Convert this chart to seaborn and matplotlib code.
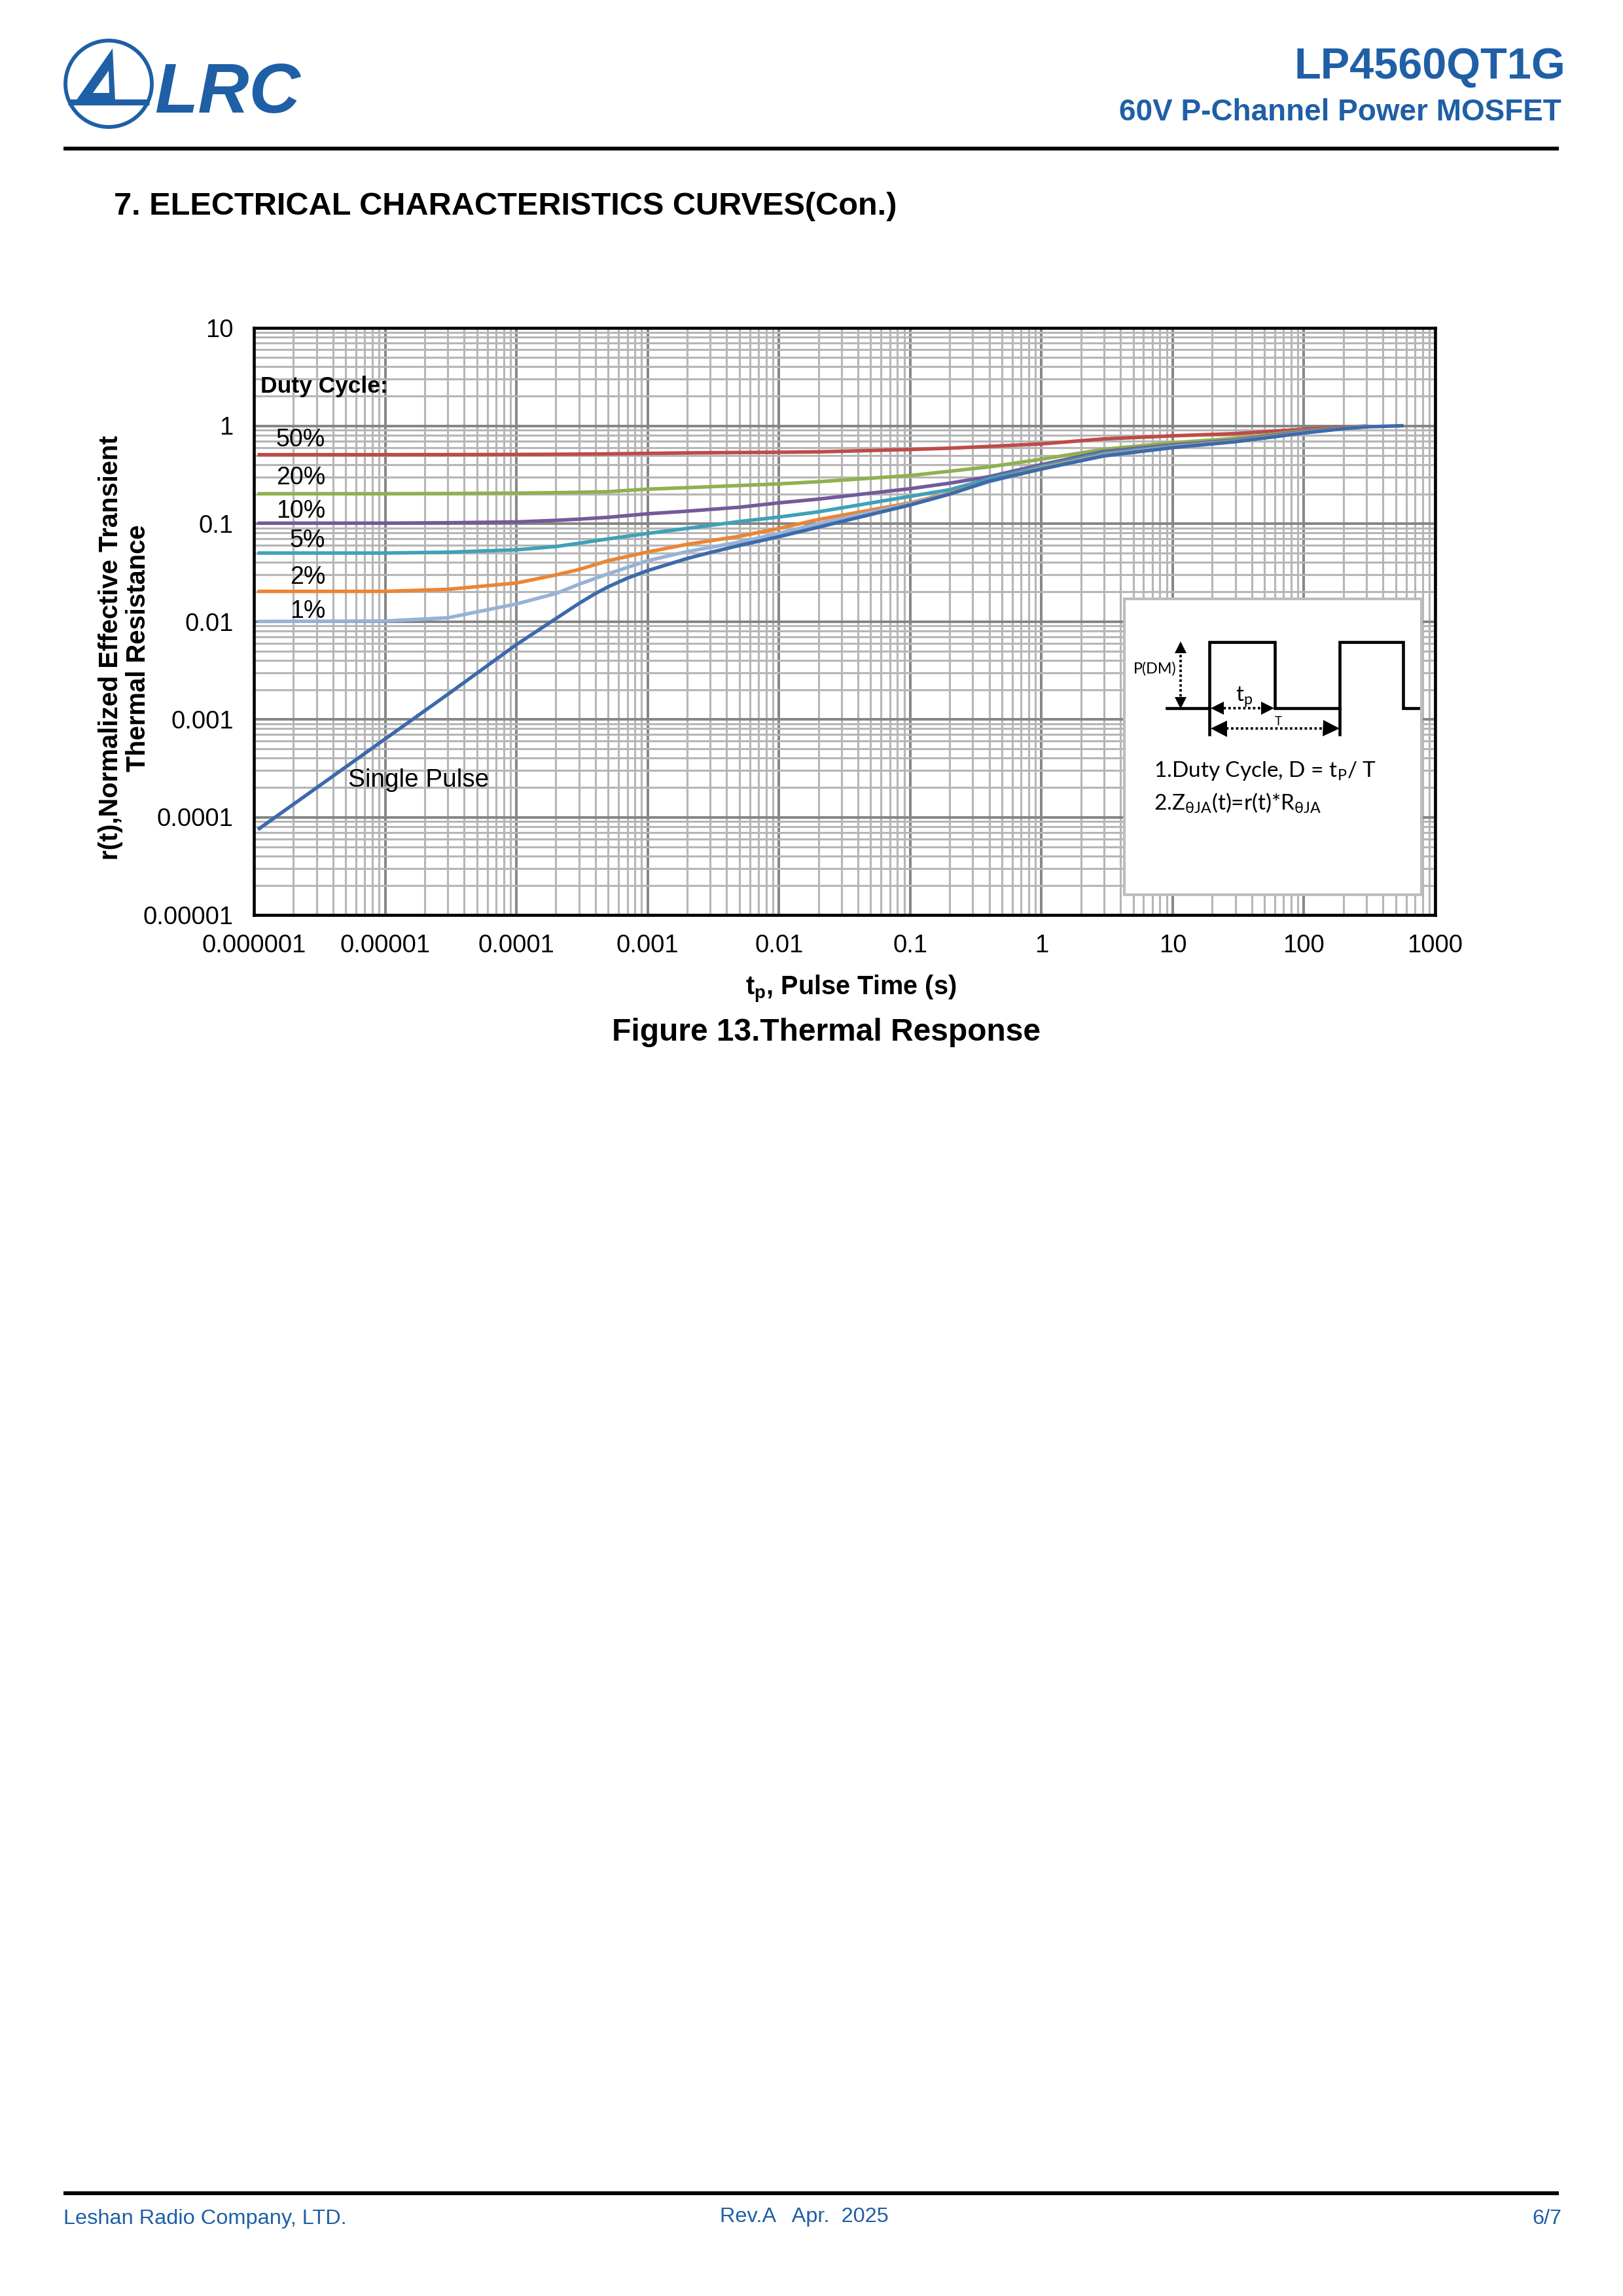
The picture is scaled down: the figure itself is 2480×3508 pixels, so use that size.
import numpy as np
import pandas as pd
import matplotlib
matplotlib.use("Agg")
import matplotlib.pyplot as plt
import seaborn as sns
from matplotlib.patches import Circle, Polygon
from matplotlib.ticker import LogLocator, NullFormatter, FixedLocator

# ---------------- data ----------------
t_duty = [1.1e-6, 1e-5, 3e-5, 1e-4, 2e-4, 3e-4, 5e-4, 1e-3, 2e-3, 5e-3, 1e-2, 2e-2,
          0.1, 0.2, 0.4, 1, 3, 10, 30, 100, 300]
r_50 = [0.506, 0.506, 0.507, 0.509, 0.511, 0.513, 0.516, 0.522, 0.528, 0.533, 0.536, 0.541,
        0.572, 0.59, 0.615, 0.653, 0.734, 0.789, 0.831, 0.921, 0.995]
r_20 = [0.202, 0.202, 0.203, 0.205, 0.207, 0.209, 0.212, 0.225, 0.233, 0.245, 0.2547, 0.268,
        0.310, 0.343, 0.380, 0.455, 0.575, 0.670, 0.742, 0.888, 0.99]
r_10 = [0.101, 0.101, 0.102, 0.104, 0.108, 0.111, 0.116, 0.126, 0.134, 0.147, 0.163, 0.178,
        0.2275, 0.259, 0.302, 0.401, 0.546, 0.636, 0.712, 0.875, 0.99]
r_5 = [0.050, 0.050, 0.051, 0.054, 0.0583, 0.063, 0.0698, 0.0794, 0.0893, 0.105, 0.1166, 0.132,
       0.190, 0.222, 0.287, 0.384, 0.525, 0.620, 0.700, 0.862, 0.99]
r_2 = [0.0203, 0.0203, 0.0213, 0.0247, 0.0299, 0.034, 0.0418, 0.0513, 0.0614, 0.0742, 0.0893, 0.110,
       0.163, 0.205, 0.270, 0.371, 0.505, 0.610, 0.695, 0.855, 0.99]
r_1 = [0.0100, 0.0101, 0.0109, 0.0151, 0.0193, 0.024, 0.0307, 0.0418, 0.0518, 0.0646, 0.0794, 0.100,
       0.159, 0.202, 0.268, 0.365, 0.500, 0.605, 0.690, 0.850, 0.99]
t_single = [1.1e-6, 1e-5, 3e-5, 1e-4, 2e-4, 3e-4, 4e-4, 5e-4, 7e-4, 1e-3, 2e-3, 3e-3, 5e-3,
            1e-2, 2e-2, 0.1, 0.2, 0.4, 1, 3, 10, 30, 100, 200, 300, 557]
r_single = [7.65e-5, 6.3e-4, 0.0018, 0.0058, 0.0107, 0.0153, 0.0193, 0.0226, 0.0277, 0.0331,
            0.044, 0.0507, 0.0598, 0.0735, 0.092, 0.155, 0.200, 0.272, 0.361, 0.492, 0.598,
            0.687, 0.844, 0.935, 0.975, 1.0]

series_names = ["50%", "20%", "10%", "5%", "2%", "1%", "Single Pulse"]
series_colors = ["#be4b48", "#8fb150", "#74599c", "#3ea1b9", "#eb8535", "#97b2d6", "#3d6aab"]

x_ticks = [1e-6, 1e-5, 1e-4, 1e-3, 1e-2, 1e-1, 1, 10, 100, 1000]
x_tick_labels = ["0.000001", "0.00001", "0.0001", "0.001", "0.01", "0.1", "1", "10", "100", "1000"]
y_ticks = [1e-5, 1e-4, 1e-3, 1e-2, 1e-1, 1, 10]
y_tick_labels = ["0.00001", "0.0001", "0.001", "0.01", "0.1", "1", "10"]

label_y = [0.62, 0.253, 0.114, 0.057, 0.0244, 0.0109]   # duty-cycle label baselines

# ---------------- build long-form table ----------------
frames = []
for name, t, r in zip(series_names,
                      [t_duty] * 6 + [t_single],
                      [r_50, r_20, r_10, r_5, r_2, r_1, r_single]):
    frames.append(pd.DataFrame({"t": t, "r": r, "series": name}))
df = pd.concat(frames, ignore_index=True)

# ---------------- figure ----------------
plt.rcParams["font.family"] = ["Liberation Sans", "DejaVu Sans"]
plt.rcParams["mathtext.fontset"] = "custom"
plt.rcParams["mathtext.rm"] = "Liberation Sans"
plt.rcParams["mathtext.bf"] = "Liberation Sans:bold"
plt.rcParams["mathtext.it"] = "Liberation Sans:italic"

W, H = 2480, 3508
fig = plt.figure(figsize=(W / 300, H / 300), dpi=300)

# page overlay in pixel coordinates
page = fig.add_axes([0, 0, 1, 1])
page.set_xlim(0, W)
page.set_ylim(H, 0)
page.axis("off")

BLUE = "#1f5fa6"
# logo
page.add_patch(Circle((166, 128), 66, fill=False, ec=BLUE, lw=1.4))
page.add_patch(Polygon([(116, 154), (172, 74), (176, 154)], closed=True, fc=BLUE, ec="none"))
page.add_patch(Polygon([(142, 142), (166, 108), (167, 142)], closed=True, fc="white", ec="none"))
page.plot([104, 228], [156, 156], color=BLUE, lw=2.2, solid_capstyle="butt")
page.text(236, 172, "LRC", fontsize=26, fontweight="bold", fontstyle="italic",
          color=BLUE, ha="left", va="baseline")

page.text(2392, 120, "LP4560QT1G", fontsize=16, fontweight="bold", color=BLUE,
          ha="right", va="baseline")
page.text(2386, 184, "60V P-Channel Power MOSFET", fontsize=11, fontweight="bold",
          color=BLUE, ha="right", va="baseline")
page.plot([97, 2382], [227, 227], color="black", lw=1.4, solid_capstyle="butt")

page.text(174, 328, "7. ELECTRICAL CHARACTERISTICS CURVES(Con.)", fontsize=11.7,
          fontweight="bold", ha="left", va="baseline")

# axis labels and caption
page.text(190, 990, "r(t),Normalized Effective Transient\nThermal Resistance",
          rotation=90, fontsize=9.6, fontweight="bold", ha="center", va="center",
          multialignment="center", linespacing=1.1)
page.text(1300, 1520, r"t$_\mathbf{p}$, Pulse Time (s)", fontsize=9.5,
          fontweight="bold", ha="center", va="baseline")
page.text(1262, 1590, "Figure 13.Thermal Response", fontsize=11.5,
          fontweight="bold", ha="center", va="baseline")

# footer
page.plot([97, 2382], [3351, 3351], color="black", lw=1.4, solid_capstyle="butt")
page.text(97, 3398, "Leshan Radio Company, LTD.", fontsize=7.8, color=BLUE,
          ha="left", va="baseline")
page.text(1100, 3395, "Rev.A   Apr.  2025", fontsize=7.8, color=BLUE,
          ha="left", va="baseline")
page.text(2386, 3398, "6/7", fontsize=7.8, color=BLUE, ha="right", va="baseline")

# ---------------- main chart ----------------
ax_l, ax_r, ax_t, ax_b = 388, 2193, 501, 1398
ax = fig.add_axes([ax_l / W, 1 - ax_b / H, (ax_r - ax_l) / W, (ax_b - ax_t) / H])
ax.set_xscale("log")
ax.set_yscale("log")

sns.lineplot(data=df, x="t", y="r", hue="series", hue_order=series_names,
             palette=dict(zip(series_names, series_colors)), estimator=None,
             sort=True, lw=1.3, legend=False, ax=ax)

ax.xaxis.set_major_locator(FixedLocator(x_ticks))
ax.set_xticklabels(x_tick_labels)
ax.yaxis.set_major_locator(FixedLocator(y_ticks))
ax.set_yticklabels(y_tick_labels)
for a in (ax.xaxis, ax.yaxis):
    a.set_minor_locator(LogLocator(base=10, subs=range(2, 10), numticks=100))
    a.set_minor_formatter(NullFormatter())
ax.set_xlim(1e-6, 1000)
ax.set_ylim(1e-5, 10)
ax.tick_params(which="both", length=0)
ax.tick_params(axis="x", labelsize=9.2, pad=7)
ax.tick_params(axis="y", labelsize=9.2, pad=7.5)
ax.set_xlabel("")
ax.set_ylabel("")
ax.set_axisbelow(True)
ax.grid(True, which="minor", color="#b6b6b6", lw=0.75)
ax.grid(True, which="major", color="#868686", lw=0.95)
for s in ax.spines.values():
    s.set_color("black")
    s.set_linewidth(1.1)

ax.text(1.12e-6, 2.18, "Duty Cycle:", fontsize=8.5, fontweight="bold",
        ha="left", va="baseline")
for name, yy in zip(series_names[:6], label_y):
    ax.text(3.5e-6, yy, name, fontsize=9, ha="right", va="baseline")
ax.text(5.2e-6, 2.05e-4, "Single Pulse", fontsize=9.3, ha="left", va="baseline")

# ---------------- inset diagram ----------------
bx0, bx1, by0, by1 = 1718, 2172, 915, 1367
ins = fig.add_axes([bx0 / W, 1 - by1 / H, (bx1 - bx0) / W, (by1 - by0) / H])
ins.set_xlim(bx0, bx1)
ins.set_ylim(by1, by0)
ins.set_xticks([])
ins.set_yticks([])
ins.set_facecolor("white")
for s in ins.spines.values():
    s.set_color("#bdbdbd")
    s.set_linewidth(1.0)

hi, lo = 981, 1082
wx = [1783, 1848, 1848, 1948, 1948, 2047, 2047, 2144, 2144, 2168]
wy = [lo, lo, hi, hi, lo, lo, hi, hi, lo, lo]
ins.plot(wx, wy, color="black", lw=1.1, solid_joinstyle="miter")
ins.plot([1848, 1848], [lo, 1122], color="black", lw=1.1)
ins.plot([2047, 2047], [lo, 1122], color="black", lw=1.1)

dot = (0, (1, 1))
# P(DM) arrow
ins.plot([1803.5, 1803.5], [hi + 12, lo - 12], color="black", lw=0.9, ls=dot)
ins.plot([1803.5], [hi + 8], marker="^", color="black", ms=4.5, mew=0)
ins.plot([1803.5], [lo - 8], marker="v", color="black", ms=4.5, mew=0)
# tp arrow
ins.plot([1862, 1938], [lo, lo], color="black", lw=0.9, ls=dot)
ins.plot([1860], [lo], marker="<", color="black", ms=5, mew=0)
ins.plot([1937], [lo], marker=">", color="black", ms=5, mew=0)
# T arrow
ins.plot([1866, 2032], [1113, 1113], color="black", lw=0.9, ls=dot)
ins.plot([1862], [1113], marker="<", color="black", ms=6, mew=0)
ins.plot([2034], [1113], marker=">", color="black", ms=6, mew=0)

ifont = ["Lato", "DejaVu Sans"]
ins.text(1732, 1022, "P(DM)", fontsize=5.6, family=ifont, ha="left", va="center")
ins.text(1888, 1072, r"t$_\mathregular{p}$", fontsize=8, family=ifont,
         ha="left", va="baseline")
ins.text(1953, 1108, "T", fontsize=4.5, family=ifont, ha="center", va="baseline")
ins.text(1763, 1187, r"1.Duty Cycle, D = t$_\mathregular{P}$/ T", fontsize=8,
         family=ifont, ha="left", va="baseline")
ins.text(1763, 1238, r"2.Z$_\mathregular{θJA}$(t)=r(t)*R$_\mathregular{θJA}$",
         fontsize=8, family=ifont, ha="left", va="baseline")

fig.savefig("out.png", dpi=300, facecolor="white")
